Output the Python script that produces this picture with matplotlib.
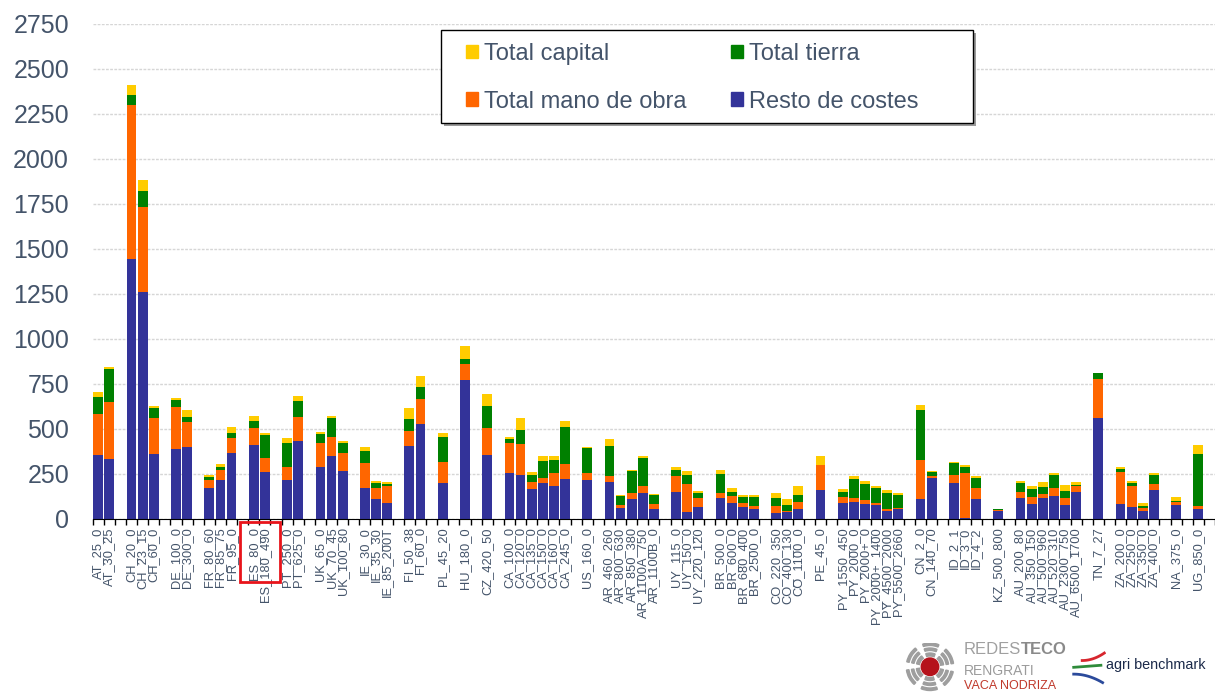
import numpy as np
import matplotlib.pyplot as plt
from matplotlib.patches import Rectangle, Circle, Wedge, Patch

plt.rcParams['font.family'] = ['Liberation Sans', 'DejaVu Sans']

labels = ['AT_25_0', 'AT_30_25',
          'CH_20_0', 'CH_23_15', 'CH_60_0',
          'DE_100_0', 'DE_300_0',
          'FR_80_60', 'FR_85_75', 'FR_95_0',
          'ES_80_0', 'ES_180_490',
          'PT_250_0', 'PT_625_0',
          'UK_65_0', 'UK_70_45', 'UK_100_80',
          'IE_30_0', 'IE_35_30', 'IE_85_200T',
          'FI_50_38', 'FI_60_0',
          'PL_45_20',
          'HU_180_0',
          'CZ_420_50',
          'CA_100_0', 'CA_120_0', 'CA_135_0', 'CA_150_0', 'CA_160_0', 'CA_245_0',
          'US_160_0',
          'AR_460_260', 'AR_800_630', 'AR_850_380', 'AR_1100A_750', 'AR_1100B_0',
          'UY_115_0', 'UY_150_0', 'UY_220_120',
          'BR_500_0', 'BR_600_0', 'BR_680_400', 'BR_2500_0',
          'CO_220_350', 'CO_400_130', 'CO_1100_0',
          'PE_45_0',
          'PY_1550_450', 'PY_2000_0', 'PY_2000+_0', 'PY_2000+_1400', 'PY_4500_2000', 'PY_5500_2660',
          'CN_2_0', 'CN_140_70',
          'ID_2_1', 'ID_3_0', 'ID_4_2',
          'KZ_500_800',
          'AU_200_80', 'AU_350_150', 'AU_500_960', 'AU_520_310', 'AU_2300_750', 'AU_6500_1700',
          'TN_7_27',
          'ZA_200_0', 'ZA_250_0', 'ZA_350_0', 'ZA_400_0',
          'NA_375_0',
          'UG_850_0']
group_sizes = [2, 3, 2, 3, 2, 2, 3, 3, 2, 1, 1, 1, 6, 1, 5, 3, 4, 3, 1, 6, 2, 3, 1, 6, 1, 4, 1, 1]

resto = [356, 334, 1441, 1261, 360, 387, 400, 171, 216, 367, 411, 262, 216, 433, 289, 350, 267,
         171, 112, 87, 407, 527, 201, 771, 356, 253, 242, 168, 201, 181, 223, 216,
         208, 59, 112, 144, 57, 151, 37, 65, 118, 90, 68, 57, 35, 37, 55, 159,
         90, 96, 85, 79, 42, 57, 111, 229, 199, 7, 112, 44,
         116, 85, 118, 125, 79, 151, 562, 81, 68, 42, 160, 79, 57]
mano = [229, 313, 859, 469, 199, 234, 136, 45, 57, 83, 96, 77, 75, 135, 135, 105, 100,
        139, 59, 96, 80, 137, 114, 90, 147, 167, 175, 40, 26, 73, 81, 37,
        30, 20, 33, 39, 28, 89, 158, 51, 29, 35, 20, 15, 37, 7, 39, 141,
        34, 18, 20, 9, 13, 6, 217, 9, 43, 247, 61, 8,
        35, 35, 22, 48, 37, 30, 216, 179, 113, 19, 32, 15, 17]
tierra = [91, 188, 56, 92, 55, 39, 32, 16, 15, 27, 37, 127, 129, 86, 46, 105, 53,
          68, 30, 12, 68, 68, 140, 28, 122, 22, 77, 39, 96, 74, 207, 143,
          168, 50, 119, 158, 49, 33, 50, 29, 104, 26, 36, 52, 44, 33, 37, 2,
          27, 109, 90, 85, 90, 71, 277, 24, 71, 34, 57, 1,
          50, 48, 35, 72, 41, 9, 31, 20, 20, 13, 55, 6, 286]
capital = [30, 11, 55, 58, 11, 13, 35, 11, 20, 34, 29, 10, 28, 30, 15, 13, 11,
           24, 9, 8, 61, 64, 22, 70, 68, 12, 65, 15, 29, 24, 35, 6,
           40, 7, 7, 11, 6, 16, 24, 12, 20, 22, 12, 12, 26, 35, 52, 46,
           13, 17, 15, 10, 14, 10, 27, 5, 4, 11, 8, 2,
           11, 15, 30, 9, 33, 15, 4, 8, 9, 14, 9, 20, 49]

# one empty slot between country groups
pos = []
x = 0
for n in group_sizes:
    pos += list(range(x, x + n))
    x += n + 1
pos = np.array(pos)
nslots = x - 1

series = [(resto, '#333399', 'Resto de costes'),
          (mano, '#FF6600', 'Total mano de obra'),
          (tierra, '#008000', 'Total tierra'),
          (capital, '#FFCC00', 'Total capital')]

txtcol = '#44546A'
fig = plt.figure(figsize=(12.15, 6.93), dpi=100)
ax = fig.add_axes([92.7/1215, 174/693, 1 - 92.7/1215, (669.3 - 174)/693])

bottom = np.zeros(len(labels))
for vals, col, name in series:
    ax.bar(pos, vals, 0.88, bottom=bottom, color=col, zorder=2)
    bottom += np.array(vals)

ax.set_xlim(-0.5, nslots + 0.5)
ax.set_ylim(0, 2750)
ax.set_yticks(range(0, 2751, 250))
ax.tick_params(axis='y', length=0, pad=17, labelsize=18, labelcolor=txtcol)
ax.set_xticks(pos)
ax.set_xticklabels(labels, rotation=90, fontsize=9.3, color=txtcol)
ax.tick_params(axis='x', which='major', length=0, pad=6)
ax.set_xticks(np.arange(-0.5, nslots + 1, 1), minor=True)
ax.tick_params(axis='x', which='minor', length=4, width=1, color='black')
for s in ['left', 'right', 'top']:
    ax.spines[s].set_visible(False)
ax.spines['bottom'].set_color('black')
ax.yaxis.grid(True, color='#D6D6D6', linestyle=(0, (2, 1)), lw=1)
ax.set_axisbelow(True)

# legend frame with shadow
fig.patches.append(Rectangle((444/1215, 1 - 126/693), 532/1215, 93/693, transform=fig.transFigure,
                             facecolor='#9A9A9A', edgecolor='none', zorder=3))
fig.patches.append(Rectangle((441/1215, 1 - 123/693), 532/1215, 93/693, transform=fig.transFigure,
                             facecolor='white', edgecolor='black', lw=1, zorder=4))
handles = [Patch(color='#FFCC00', label='Total capital'),
           Patch(color='#FF6600', label='Total mano de obra'),
           Patch(color='#008000', label='Total tierra'),
           Patch(color='#333399', label='Resto de costes')]
leg = fig.legend(handles=handles, loc='upper left', bbox_to_anchor=(466/1215, 1 - 43/693),
                 ncol=2, frameon=False, fontsize=17, handlelength=0.5, handleheight=0.5,
                 handletextpad=0.25, columnspacing=1.9, labelspacing=1.08, borderpad=0,
                 borderaxespad=0)
for t in leg.get_texts():
    t.set_color(txtcol)
leg.set_zorder(6)

# red box around the ES labels
fig.patches.append(Rectangle((240/1215, 1 - 582/693), 40/1215, 60/693, transform=fig.transFigure,
                             fill=False, edgecolor='#E8141B', lw=2, zorder=6))

# logos
lax = fig.add_axes([905/1215, 1 - 693/693, 50/1215, 50/693])
lax.set_xlim(-1, 1)
lax.set_ylim(-1, 1)
lax.set_aspect('equal')
lax.axis('off')
for r, w in [(0.55, 0.12), (0.75, 0.1), (0.95, 0.1)]:
    for a in range(0, 360, 60):
        lax.add_patch(Wedge((0, 0.05), r, a + 8, a + 48, width=w, color='#9E9E9E'))
lax.add_patch(Circle((0, 0.05), 0.35, color='#B5121B'))

t1 = fig.text(964/1215, 1 - 650/693, 'REDES', fontsize=12, color='#A0A0A0', va='center')
fig.canvas.draw()
bb = t1.get_window_extent()
fig.text(bb.x1/1215, 1 - 650/693, 'TECO', fontsize=12, color='#8A8A8A', fontweight='bold', va='center')
fig.text(964/1215, 1 - 671/693, 'RENGRATI', fontsize=10, color='#9B9B9B', va='center')
fig.text(964/1215, 1 - 686/693, 'VACA NODRIZA', fontsize=9, color='#C0392B', va='center')

sax = fig.add_axes([1072/1215, 1 - 685/693, 34/1215, 34/693])
sax.set_xlim(0, 1)
sax.set_ylim(0, 1)
sax.axis('off')
t = np.linspace(0, 1, 30)
sax.plot(0.3 + 0.65 * t, 0.72 + 0.22 * t ** 2, color='#D7262E', lw=2)
sax.plot(0.05 + 0.8 * t, 0.52 + 0.06 * t, color='#2E8B3A', lw=2)
sax.plot(0.05 + 0.85 * t, 0.32 - 0.25 * t ** 2, color='#2B4A9B', lw=2)
fig.text(1106/1215, 1 - 665/693, 'agri benchmark', fontsize=10.4, color='#1B2A4A', va='center')

plt.savefig('out.png', dpi=100)
